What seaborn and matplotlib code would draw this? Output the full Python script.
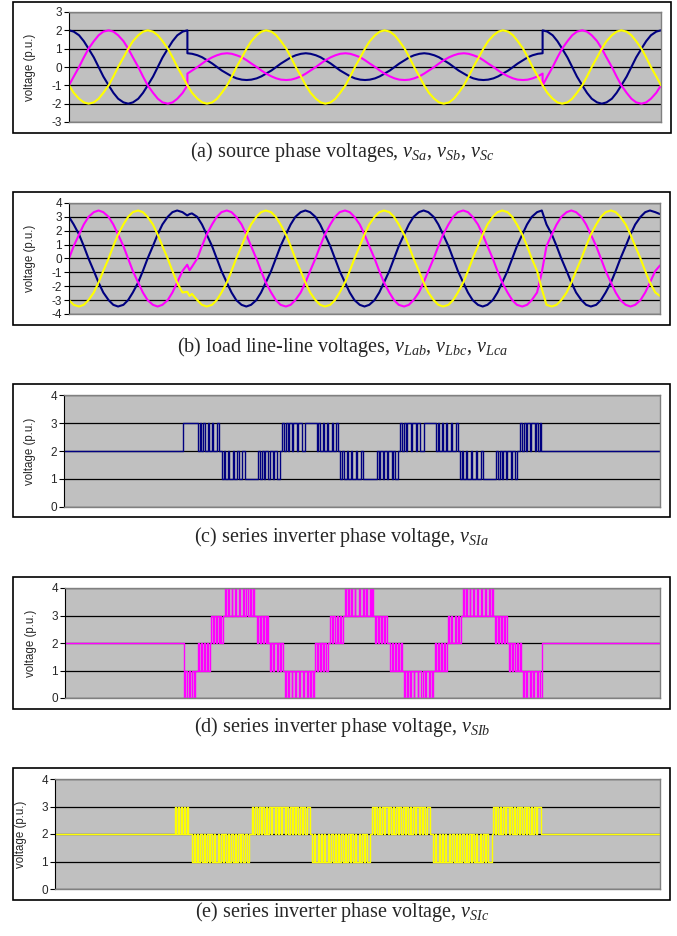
import pandas as pd
import seaborn as sns
import matplotlib.pyplot as plt
from matplotlib.patches import Rectangle

# time base (ms) for the source panel, 15 deg per sample, repeated points at the jumps
t_src = [0.0, 0.8, 1.7, 2.5, 3.3, 4.2, 5.0, 5.8, 6.7, 7.5, 8.3, 9.2,
         10.0, 10.8, 11.7, 12.5, 13.3, 14.2, 15.0, 15.8, 16.7, 17.5, 18.3, 19.2, 20.0,
         20.0, 20.8, 21.7, 22.5, 23.3, 24.2, 25.0, 25.8, 26.7, 27.5, 28.3, 29.2,
         30.0, 30.8, 31.7, 32.5, 33.3, 34.2, 35.0, 35.8, 36.7, 37.5, 38.3, 39.2,
         40.0, 40.8, 41.7, 42.5, 43.3, 44.2, 45.0, 45.8, 46.7, 47.5, 48.3, 49.2,
         50.0, 50.8, 51.7, 52.5, 53.3, 54.2, 55.0, 55.8, 56.7, 57.5, 58.3, 59.2,
         60.0, 60.8, 61.7, 62.5, 63.3, 64.2, 65.0, 65.8, 66.7, 67.5, 68.3, 69.2,
         70.0, 70.8, 71.7, 72.5, 73.3, 74.2, 75.0, 75.8, 76.7, 77.5, 78.3, 79.2, 80.0,
         80.0, 80.8, 81.7, 82.5, 83.3, 84.2, 85.0, 85.8, 86.7, 87.5, 88.3, 89.2,
         90.0, 90.8, 91.7, 92.5, 93.3, 94.2, 95.0, 95.8, 96.7, 97.5, 98.3, 99.2, 100.0]

# (a) source phase voltages (phases a and b sag between 20 and 80 ms)
v_sa = [2.0, 1.93, 1.73, 1.41, 1.0, 0.52, 0.0, -0.52, -1.0, -1.41, -1.73, -1.93,
        -2.0, -1.93, -1.73, -1.41, -1.0, -0.52, 0.0, 0.52, 1.0, 1.41, 1.73, 1.93, 2.0,
        0.75, 0.72, 0.64, 0.53, 0.37, 0.19, 0.0, -0.19, -0.36, -0.51, -0.62, -0.69,
        -0.71, -0.69, -0.62, -0.51, -0.36, -0.19, 0.0, 0.19, 0.37, 0.53, 0.64, 0.72,
        0.75, 0.72, 0.64, 0.53, 0.37, 0.19, 0.0, -0.19, -0.36, -0.51, -0.62, -0.69,
        -0.71, -0.69, -0.62, -0.51, -0.36, -0.19, 0.0, 0.19, 0.37, 0.53, 0.64, 0.72,
        0.75, 0.72, 0.64, 0.53, 0.37, 0.19, 0.0, -0.19, -0.36, -0.51, -0.62, -0.69,
        -0.71, -0.69, -0.62, -0.51, -0.36, -0.19, 0.0, 0.19, 0.37, 0.53, 0.64, 0.72, 0.75,
        2.0, 1.93, 1.73, 1.41, 1.0, 0.52, 0.0, -0.52, -1.0, -1.41, -1.73, -1.93,
        -2.0, -1.93, -1.73, -1.41, -1.0, -0.52, 0.0, 0.52, 1.0, 1.41, 1.73, 1.93, 2.0]
v_sb = [-1.0, -0.52, 0.0, 0.52, 1.0, 1.41, 1.73, 1.93, 2.0, 1.93, 1.73, 1.41,
        1.0, 0.52, 0.0, -0.52, -1.0, -1.41, -1.73, -1.93, -2.0, -1.93, -1.73, -1.41, -1.0,
        -0.36, -0.19, 0.0, 0.19, 0.37, 0.53, 0.64, 0.72, 0.75, 0.72, 0.64, 0.53,
        0.37, 0.19, 0.0, -0.19, -0.36, -0.51, -0.62, -0.69, -0.71, -0.69, -0.62, -0.51,
        -0.36, -0.19, 0.0, 0.19, 0.37, 0.53, 0.64, 0.72, 0.75, 0.72, 0.64, 0.53,
        0.37, 0.19, 0.0, -0.19, -0.36, -0.51, -0.62, -0.69, -0.71, -0.69, -0.62, -0.51,
        -0.36, -0.19, 0.0, 0.19, 0.37, 0.53, 0.64, 0.72, 0.75, 0.72, 0.64, 0.53,
        0.37, 0.19, 0.0, -0.19, -0.36, -0.51, -0.62, -0.69, -0.71, -0.69, -0.62, -0.51, -0.36,
        -1.0, -0.52, 0.0, 0.52, 1.0, 1.41, 1.73, 1.93, 2.0, 1.93, 1.73, 1.41,
        1.0, 0.52, 0.0, -0.52, -1.0, -1.41, -1.73, -1.93, -2.0, -1.93, -1.73, -1.41, -1.0]
v_sc = [-1.0, -1.41, -1.73, -1.93, -2.0, -1.93, -1.73, -1.41, -1.0, -0.52, 0.0, 0.52,
        1.0, 1.41, 1.73, 1.93, 2.0, 1.93, 1.73, 1.41, 1.0, 0.52, 0.0, -0.52, -1.0,
        -1.0, -1.41, -1.73, -1.93, -2.0, -1.93, -1.73, -1.41, -1.0, -0.52, 0.0, 0.52,
        1.0, 1.41, 1.73, 1.93, 2.0, 1.93, 1.73, 1.41, 1.0, 0.52, 0.0, -0.52,
        -1.0, -1.41, -1.73, -1.93, -2.0, -1.93, -1.73, -1.41, -1.0, -0.52, 0.0, 0.52,
        1.0, 1.41, 1.73, 1.93, 2.0, 1.93, 1.73, 1.41, 1.0, 0.52, 0.0, -0.52,
        -1.0, -1.41, -1.73, -1.93, -2.0, -1.93, -1.73, -1.41, -1.0, -0.52, 0.0, 0.52,
        1.0, 1.41, 1.73, 1.93, 2.0, 1.93, 1.73, 1.41, 1.0, 0.52, 0.0, -0.52, -1.0,
        -1.0, -1.41, -1.73, -1.93, -2.0, -1.93, -1.73, -1.41, -1.0, -0.52, 0.0, 0.52,
        1.0, 1.41, 1.73, 1.93, 2.0, 1.93, 1.73, 1.41, 1.0, 0.52, 0.0, -0.52, -1.0]

# (b) load line-line voltages (short transient after 20 ms, lagging ~30 deg during the sag)
t_load = [0.0, 0.8, 1.7, 2.5, 3.3, 4.2, 5.0, 5.8, 6.7, 7.5, 8.3, 9.2,
          10.0, 10.8, 11.7, 12.5, 13.3, 14.2, 15.0, 15.8, 16.7, 17.5, 18.3, 19.2,
          20.0, 20.4, 20.8,
          21.7, 22.5, 23.3, 24.2, 25.0, 25.8, 26.7, 27.5, 28.3, 29.2,
          30.0, 30.8, 31.7, 32.5, 33.3, 34.2, 35.0, 35.8, 36.7, 37.5, 38.3, 39.2,
          40.0, 40.8, 41.7, 42.5, 43.3, 44.2, 45.0, 45.8, 46.7, 47.5, 48.3, 49.2,
          50.0, 50.8, 51.7, 52.5, 53.3, 54.2, 55.0, 55.8, 56.7, 57.5, 58.3, 59.2,
          60.0, 60.8, 61.7, 62.5, 63.3, 64.2, 65.0, 65.8, 66.7, 67.5, 68.3, 69.2,
          70.0, 70.8, 71.7, 72.5, 73.3, 74.2, 75.0, 75.8, 76.7, 77.5, 78.3, 79.2, 80.0,
          80.8, 81.7, 82.5, 83.3, 84.2, 85.0, 85.8, 86.7, 87.5, 88.3, 89.2,
          90.0, 90.8, 91.7, 92.5, 93.3, 94.2, 95.0, 95.8, 96.7, 97.5, 98.3, 99.2, 100.0]
v_lab = [3.0, 2.45, 1.73, 0.9, 0.0, -0.9, -1.73, -2.45, -3.0, -3.34, -3.46, -3.34,
         -3.0, -2.45, -1.73, -0.9, 0.0, 0.9, 1.73, 2.45, 3.0, 3.34, 3.46, 3.34,
         3.1, 3.2, 3.25,
         3.0, 2.45, 1.73, 0.9, 0.0, -0.9, -1.73, -2.45, -3.0, -3.34, -3.46, -3.34,
         -3.0, -2.45, -1.73, -0.9, 0.0, 0.9, 1.73, 2.45, 3.0, 3.34, 3.46, 3.34,
         3.0, 2.45, 1.73, 0.9, 0.0, -0.9, -1.73, -2.45, -3.0, -3.34, -3.46, -3.34,
         -3.0, -2.45, -1.73, -0.9, 0.0, 0.9, 1.73, 2.45, 3.0, 3.34, 3.46, 3.34,
         3.0, 2.45, 1.73, 0.9, 0.0, -0.9, -1.73, -2.45, -3.0, -3.34, -3.46, -3.34,
         -3.0, -2.45, -1.73, -0.9, 0.0, 0.9, 1.73, 2.45, 3.0, 3.34, 3.46,
         2.45, 1.73, 0.9, 0.0, -0.9, -1.73, -2.45, -3.0, -3.34, -3.46, -3.34,
         -3.0, -2.45, -1.73, -0.9, 0.0, 0.9, 1.73, 2.45, 3.0, 3.34, 3.46, 3.34, 3.2]
v_lbc = [0.0, 0.9, 1.73, 2.45, 3.0, 3.34, 3.46, 3.34, 3.0, 2.45, 1.73, 0.9,
         0.0, -0.9, -1.73, -2.45, -3.0, -3.34, -3.46, -3.34, -3.0, -2.45, -1.73, -0.9,
         -0.45, -0.85, -0.6,
         0.0, 0.9, 1.73, 2.45, 3.0, 3.34, 3.46, 3.34, 3.0, 2.45, 1.73, 0.9,
         0.0, -0.9, -1.73, -2.45, -3.0, -3.34, -3.46, -3.34, -3.0, -2.45, -1.73, -0.9,
         0.0, 0.9, 1.73, 2.45, 3.0, 3.34, 3.46, 3.34, 3.0, 2.45, 1.73, 0.9,
         0.0, -0.9, -1.73, -2.45, -3.0, -3.34, -3.46, -3.34, -3.0, -2.45, -1.73, -0.9,
         0.0, 0.9, 1.73, 2.45, 3.0, 3.34, 3.46, 3.34, 3.0, 2.45, 1.73, 0.9,
         0.0, -0.9, -1.73, -2.45, -3.0, -3.34, -3.46, -3.34, -3.0, -2.45, -1.0,
         0.9, 1.73, 2.45, 3.0, 3.34, 3.46, 3.34, 3.0, 2.45, 1.73, 0.9,
         0.0, -0.9, -1.73, -2.45, -3.0, -3.34, -3.46, -3.34, -3.0, -2.45, -1.73, -0.9, -0.5]
v_lca = [-3.0, -3.34, -3.46, -3.34, -3.0, -2.45, -1.73, -0.9, 0.0, 0.9, 1.73, 2.45,
         3.0, 3.34, 3.46, 3.34, 3.0, 2.45, 1.73, 0.9, 0.0, -0.9, -1.73, -2.45,
         -2.4, -2.7, -2.55,
         -3.0, -3.34, -3.46, -3.34, -3.0, -2.45, -1.73, -0.9, 0.0, 0.9, 1.73, 2.45,
         3.0, 3.34, 3.46, 3.34, 3.0, 2.45, 1.73, 0.9, 0.0, -0.9, -1.73, -2.45,
         -3.0, -3.34, -3.46, -3.34, -3.0, -2.45, -1.73, -0.9, 0.0, 0.9, 1.73, 2.45,
         3.0, 3.34, 3.46, 3.34, 3.0, 2.45, 1.73, 0.9, 0.0, -0.9, -1.73, -2.45,
         -3.0, -3.34, -3.46, -3.34, -3.0, -2.45, -1.73, -0.9, 0.0, 0.9, 1.73, 2.45,
         3.0, 3.34, 3.46, 3.34, 3.0, 2.45, 1.73, 0.9, 0.0, -0.9, -2.2,
         -3.34, -3.46, -3.34, -3.0, -2.45, -1.73, -0.9, 0.0, 0.9, 1.73, 2.45,
         3.0, 3.34, 3.46, 3.34, 3.0, 2.45, 1.73, 0.9, 0.0, -0.9, -1.73, -2.45, -2.7]

# series inverter outputs: (level at even edges, level at odd edges, switching instants ms)
v_sia = [
    (2, 2, [0.0]),
    (3, 3, [20.0]),
    (2, 3, [22.5, 22.8, 23.0, 23.4, 23.6, 24.1, 24.3, 24.8, 25.0, 25.6, 26.0]),
    (1, 2, [26.5, 26.8, 27.0, 27.5, 27.7, 28.3, 28.5, 29.1, 29.3, 29.9, 30.4]),
    (2, 1, [32.6, 32.9, 33.2, 33.6, 33.8, 34.3, 34.5, 35.0, 35.3, 35.8, 36.2]),
    (3, 2, [36.6, 36.9, 37.2, 37.6, 37.8, 38.3, 38.5, 39.1, 39.3, 39.9, 40.4]),
    (2, 3, [42.4, 42.7, 43.0, 43.4, 43.6, 44.1, 44.3, 44.9, 45.1, 45.6, 46.0]),
    (1, 2, [46.3, 46.6, 46.9, 47.4, 47.6, 48.2, 48.4, 49.0, 49.2, 49.8, 50.2]),
    (2, 1, [52.5, 52.8, 53.1, 53.5, 53.7, 54.2, 54.4, 55.0, 55.2, 55.6, 56.0]),
    (3, 2, [56.4, 56.7, 57.0, 57.4, 57.6, 58.2, 58.4, 59.0, 59.2, 59.8, 60.4]),
    (2, 3, [62.4, 62.7, 63.0, 63.4, 63.6, 64.1, 64.3, 64.9, 65.1, 65.7, 66.1]),
    (1, 2, [66.4, 66.7, 67.0, 67.5, 67.7, 68.3, 68.5, 69.1, 69.3, 69.9, 70.3]),
    (2, 1, [72.5, 72.8, 73.1, 73.5, 73.7, 74.2, 74.4, 75.0, 75.2, 75.6, 76.0]),
    (3, 2, [76.5, 76.8, 77.1, 77.5, 77.7, 78.2, 78.4, 79.0, 79.2, 79.6, 79.9]),
    (2, 2, [80.0]),
]
v_sib = [
    (2, 2, [0.0]),
    (0, 1, [20.0, 20.2, 20.5, 20.8, 21.0, 21.4, 21.6, 21.9]),
    (2, 1, [22.3, 22.5, 22.8, 23.0, 23.4, 23.6, 23.9, 24.1, 24.3]),
    (3, 2, [24.6, 24.8, 25.1, 25.3, 25.6, 25.8, 26.1, 26.3, 26.6]),
    (4, 3, [26.9, 27.1, 27.4, 27.6, 28.0, 28.1, 28.6, 28.7, 29.3, 29.4, 29.9, 30.1, 30.5, 30.7, 31.1, 31.3, 31.6, 31.8]),
    (2, 3, [32.2, 32.4, 32.7, 32.9, 33.2, 33.4, 33.7, 33.9, 34.2]),
    (1, 2, [34.5, 34.7, 35.0, 35.2, 35.6, 35.8, 36.1, 36.3, 36.7]),
    (0, 1, [37.0, 37.2, 37.5, 37.7, 38.1, 38.2, 38.7, 38.8, 39.4, 39.5, 40.0, 40.2, 40.6, 40.8, 41.2, 41.4, 41.7, 41.9]),
    (2, 1, [42.1, 42.3, 42.6, 42.8, 43.1, 43.3, 43.6, 43.8, 44.2]),
    (3, 2, [44.6, 44.8, 45.1, 45.3, 45.7, 45.9, 46.2, 46.4, 46.8]),
    (4, 3, [47.0, 47.2, 47.5, 47.7, 48.1, 48.2, 48.7, 48.8, 49.4, 49.5, 50.0, 50.2, 50.6, 50.8, 51.2, 51.4, 51.6, 51.8]),
    (2, 3, [52.1, 52.3, 52.6, 52.8, 53.1, 53.3, 53.6, 53.8, 54.2]),
    (1, 2, [54.7, 54.9, 55.2, 55.4, 55.7, 55.9, 56.2, 56.4, 56.7]),
    (0, 1, [56.9, 57.1, 57.4, 57.6, 58.0, 58.1, 58.6, 58.7, 59.3, 59.4, 59.9, 60.1, 60.5, 60.7, 61.1, 61.3, 61.6, 61.9]),
    (2, 1, [62.2, 62.4, 62.7, 62.9, 63.2, 63.4, 63.7, 63.9, 64.2]),
    (3, 2, [64.4, 64.6, 64.9, 65.1, 65.5, 65.7, 66.0, 66.2, 66.6]),
    (4, 3, [66.9, 67.1, 67.4, 67.6, 68.0, 68.1, 68.6, 68.7, 69.3, 69.4, 69.9, 70.1, 70.6, 70.8, 71.2, 71.4, 71.7, 72.0]),
    (2, 3, [72.3, 72.5, 72.8, 73.0, 73.3, 73.5, 73.8, 74.0, 74.3]),
    (1, 2, [74.6, 74.8, 75.1, 75.3, 75.7, 75.9, 76.2, 76.4, 76.7]),
    (0, 1, [77.0, 77.2, 77.5, 77.7, 78.1, 78.3, 78.7, 78.9, 79.3, 79.5, 79.9, 80.1]),
    (2, 2, [80.2]),
]
v_sic = [
    (2, 2, [0.0]),
    (3, 2, [19.8, 20.0, 20.3, 20.5, 20.8, 21.0, 21.3, 21.5, 21.8, 22.0]),
    (1, 2, [22.6, 22.9, 23.1, 23.5, 23.7, 24.0, 24.3, 24.6, 24.8, 25.2, 25.4, 25.7, 26.0, 26.3, 26.5, 26.9, 27.1,
            27.4, 27.7, 28.0, 28.2, 28.6, 28.8, 29.1, 29.4, 29.7, 29.9, 30.3, 30.5, 30.8, 31.1, 31.4, 31.7, 32.1]),
    (3, 2, [32.6, 32.8, 33.1, 33.4, 33.7, 34.0, 34.2, 34.6, 34.8, 35.1, 35.4, 35.7, 35.9, 36.3, 36.5, 36.8, 37.1,
            37.4, 37.6, 38.0, 38.2, 38.5, 38.8, 39.1, 39.3, 39.7, 39.9, 40.2, 40.5, 40.8, 41.0, 41.4, 41.7, 42.1]),
    (1, 2, [42.5, 42.8, 43.0, 43.4, 43.6, 43.9, 44.2, 44.5, 44.7, 45.1, 45.3, 45.6, 45.9, 46.2, 46.4, 46.8, 47.0,
            47.3, 47.6, 47.9, 48.1, 48.5, 48.7, 49.0, 49.3, 49.6, 49.8, 50.2, 50.4, 50.7, 51.0, 51.3, 51.6, 52.1]),
    (3, 2, [52.4, 52.7, 52.9, 53.3, 53.5, 53.8, 54.1, 54.4, 54.6, 55.0, 55.2, 55.5, 55.8, 56.1, 56.3, 56.7, 56.9,
            57.2, 57.5, 57.8, 58.0, 58.4, 58.6, 58.9, 59.2, 59.5, 59.7, 60.1, 60.3, 60.6, 60.9, 61.2, 61.5, 62.0]),
    (1, 2, [62.5, 62.8, 63.0, 63.4, 63.6, 63.9, 64.2, 64.5, 64.7, 65.1, 65.3, 65.6, 65.9, 66.2, 66.4, 66.8, 67.0,
            67.3, 67.6, 67.9, 68.1, 68.5, 68.7, 69.0, 69.3, 69.6, 69.8, 70.2, 70.4, 70.7, 71.0, 71.3, 71.6, 72.2]),
    (3, 2, [72.4, 72.7, 72.9, 73.3, 73.5, 73.8, 74.1, 74.4, 74.6, 75.0, 75.2, 75.5, 75.8, 76.1, 76.3, 76.7, 76.9,
            77.2, 77.5, 77.8, 78.0, 78.4, 78.6, 78.9, 79.2, 79.5, 79.7, 80.3]),
    (2, 2, [80.3]),
]

NAVY, MAGENTA, YELLOW = "#000080", "#FF00FF", "#FFFF00"
W, H = 677, 936


def pwm_frame(bursts, t_end=100.0):
    t, v = [], []
    level = None
    for lev_a, lev_b, edges in bursts:
        for i, te in enumerate(edges):
            new = lev_a if i % 2 == 0 else lev_b
            if level is not None:
                t.append(te)
                v.append(level)
            t.append(te)
            v.append(new)
            level = new
    t.append(t_end)
    v.append(level)
    return pd.DataFrame({"t": t, "v": v})


def phase_frame(t, series):
    parts = [pd.DataFrame({"t": t, "v": vals, "phase": name}) for name, vals in series]
    return pd.concat(parts, ignore_index=True)


def fig_rect(x0, y0, x1, y1):
    return [x0 / W, 1 - y1 / H, (x1 - x0) / W, (y1 - y0) / H]


sns.set_style("white")
plt.rcParams["font.family"] = ["Liberation Sans", "DejaVu Sans"]
plt.rcParams["axes.unicode_minus"] = False
plt.rcParams["mathtext.fontset"] = "custom"
plt.rcParams["mathtext.rm"] = "Liberation Serif"
plt.rcParams["mathtext.it"] = "Liberation Serif:italic"

fig = plt.figure(figsize=(W / 100, H / 100), dpi=100)

panels = [
    dict(plot=(69, 12, 661, 122), box=(13, 2, 671, 133), ylim=(-3, 3), lab_x=36, cap_y=152,
         cap="(a) source phase voltages, $v_{Sa}$, $v_{Sb}$, $v_{Sc}$"),
    dict(plot=(69, 203, 660, 314), box=(13, 192, 670, 325), ylim=(-4, 4), lab_x=36, cap_y=347,
         cap="(b) load line-line voltages, $v_{Lab}$, $v_{Lbc}$, $v_{Lca}$"),
    dict(plot=(64, 395, 660, 507), box=(13, 384, 670, 517), ylim=(0, 4), lab_x=36, cap_y=537,
         cap="(c) series inverter phase voltage, $v_{SIa}$"),
    dict(plot=(65, 588, 660, 698), box=(13, 577, 670, 709), ylim=(0, 4), lab_x=37, cap_y=727,
         cap="(d) series inverter phase voltage, $v_{SIb}$"),
    dict(plot=(55, 779, 660, 889), box=(13, 768, 670, 900), ylim=(0, 4), lab_x=27, cap_y=912,
         cap="(e) series inverter phase voltage, $v_{SIc}$"),
]

axes = []
for p in panels:
    x0, y0, x1, y1 = p["box"]
    fig.add_artist(Rectangle((x0 / W, 1 - y1 / H), (x1 - x0) / W, (y1 - y0) / H,
                             transform=fig.transFigure, fill=False, ec="black", lw=1.2))
    ax = fig.add_axes(fig_rect(*p["plot"]))
    ax.set_facecolor("#C0C0C0")
    lo, hi = p["ylim"]
    ax.set_xlim(0, 100)
    ax.set_ylim(lo, hi)
    ax.set_yticks(range(lo, hi + 1))
    ax.set_xticks([])
    ax.yaxis.grid(True, color="black", lw=0.9)
    ax.set_axisbelow(True)
    for side in ["top", "right", "bottom"]:
        ax.spines[side].set_color("#808080")
        ax.spines[side].set_linewidth(1.0)
    ax.spines["left"].set_color("black")
    ax.spines["left"].set_linewidth(0.8)
    ax.tick_params(axis="y", direction="out", length=3.5, width=0.8, color="black",
                   labelsize=8.5, pad=1.5, left=True)
    ax.set_ylabel("voltage (p.u.)", fontsize=8.3)
    px0, _, px1, _ = p["plot"]
    ax.yaxis.set_label_coords((p["lab_x"] - px0) / (px1 - px0), 0.5)
    fig.text(342 / W, 1 - p["cap_y"] / H, p["cap"], ha="center", va="center",
             fontsize=14.5, family="Liberation Serif")
    axes.append(ax)

src = phase_frame(t_src, [("a", v_sa), ("b", v_sb), ("c", v_sc)])
sns.lineplot(data=src, x="t", y="v", hue="phase", palette=[NAVY, MAGENTA, YELLOW],
             estimator=None, sort=False, lw=1.5, legend=False, ax=axes[0])

load = phase_frame(t_load, [("ab", v_lab), ("bc", v_lbc), ("ca", v_lca)])
sns.lineplot(data=load, x="t", y="v", hue="phase", palette=[NAVY, MAGENTA, YELLOW],
             estimator=None, sort=False, lw=1.5, legend=False, ax=axes[1])

for ax, bursts, color in zip(axes[2:], [v_sia, v_sib, v_sic], [NAVY, MAGENTA, YELLOW]):
    sns.lineplot(data=pwm_frame(bursts), x="t", y="v", color=color, estimator=None,
                 sort=False, lw=1.0, ax=ax)

for ax in axes:
    ax.set_xlabel("")
    ax.set_xlim(0, 100)

fig.savefig("out.png", dpi=100)
